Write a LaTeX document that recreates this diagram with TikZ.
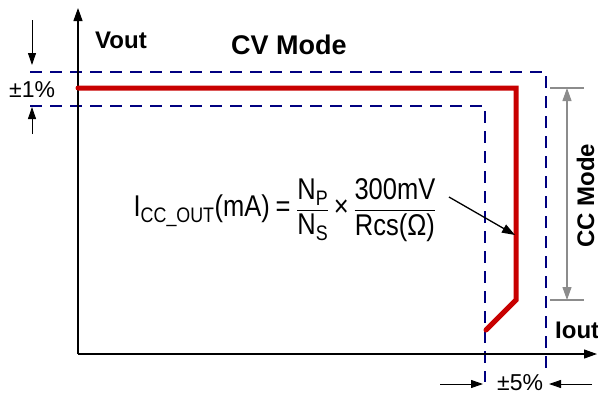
\documentclass[tikz,border=0pt]{standalone}
\usepackage{amsmath}
\usepackage{fontspec}
\setmainfont{Liberation Sans}
\usetikzlibrary{arrows.meta}
\definecolor{dashblue}{RGB}{0,0,128}
\definecolor{curvered}{RGB}{200,0,0}
\definecolor{dimgray}{RGB}{140,140,140}
\tikzset{
  axis/.style={line width=1.2pt, -{Triangle[length=13pt,width=9pt]}},
  tol/.style={dashblue, line width=1.8pt, dash pattern=on 12pt off 8pt},
  curve/.style={curvered, line width=5pt, line cap=round, line join=miter},
  dimarrow/.style={line width=0.9pt, -{Triangle[length=12pt,width=8pt]}},
  ccdim/.style={dimgray, line width=1.2pt},
  lbl/.style={inner sep=0pt, anchor=base west},
  boldlbl/.style={lbl, font=\bfseries\fontsize{24}{28}\selectfont},
  reglbl/.style={lbl, font=\fontsize{23}{27}\selectfont},
}
\begin{document}
\begin{tikzpicture}[x=1pt,y=-1pt]
\useasboundingbox (0,0) rectangle (598,394);
% coordinates
\coordinate (O) at (78,354);
\coordinate (ytop) at (78,8);
\coordinate (xend) at (597,354);
% tolerance dashed boxes
\coordinate (t1) at (30,72);
\coordinate (t2) at (546,72);
\coordinate (t3) at (546,375);
\coordinate (b1) at (30,106);
\coordinate (b2) at (485,106);
\coordinate (b3) at (485,382);
\draw[tol] (t1) -- (t2) -- (t3);
\draw[tol] (b1) -- (b2) -- (b3);
% axes
\draw[axis] (O) -- (ytop);
\draw[axis] (O) -- (xend);
% red characteristic
\coordinate (r1) at (78,88);
\coordinate (r2) at (516,88);
\coordinate (r3) at (516,300);
\coordinate (r4) at (486,330);
\draw[curve] (r1) -- (r2) -- (r3) -- (r4);
% +-1% arrows
\coordinate (a1s) at (32,20);
\coordinate (a1e) at (32,65);
\coordinate (a2s) at (32,134);
\coordinate (a2e) at (32,107);
\draw[dimarrow] (a1s) -- (a1e);
\draw[dimarrow] (a2s) -- (a2e);
% +-5% arrows
\coordinate (a3s) at (440,384);
\coordinate (a3e) at (483,384);
\coordinate (a4s) at (592,384);
\coordinate (a4e) at (549,384);
\draw[dimarrow] (a3s) -- (a3e);
\draw[dimarrow] (a4s) -- (a4e);
% CC mode dimension
\coordinate (c1l) at (550,88);
\coordinate (c1r) at (584,88);
\coordinate (c2l) at (550,300);
\coordinate (c2r) at (584,300);
\draw[ccdim] (c1l) -- (c1r);
\draw[ccdim] (c2l) -- (c2r);
\coordinate (cm) at (567,194);
\coordinate (ct) at (567,88);
\coordinate (cb) at (567,300);
\draw[ccdim, -{Triangle[length=13pt,width=9pt]}] (cm) -- (ct);
\draw[ccdim, -{Triangle[length=13pt,width=9pt]}] (cm) -- (cb);
% labels
\node[boldlbl] (vout) at (95,48) {Vout};
\node[lbl, font=\bfseries\fontsize{27}{32}\selectfont] (cv) at (231,54) {CV Mode};
\node[reglbl] (pm1) at (9,97) {±1\%};
\node[boldlbl] (iout) at (555,338) {Iout};
\node[reglbl] (pm5) at (497,390) {±5\%};
\node[boldlbl, rotate=90] (cc) at (594,248) {CC Mode};
% formula
\node[inner sep=0pt] (formula) at (285,210) {\scalebox{0.85}[1]{\fontsize{30}{36}\selectfont
  $\displaystyle \text{I}_{\text{CC\_OUT}}\text{(mA)}\mathrel{\text{=}}\frac{\text{N}_{\text{P}}}{\text{N}_{\text{S}}}\mathbin{\text{×}}\frac{\text{300mV}}{\text{Rcs(Ω)}}$}};
\coordinate (fa) at (449,197);
\coordinate (fb) at (515,235);
\draw[line width=1.3pt, -{Triangle[length=13pt,width=9pt]}] (fa) -- (fb);
\end{tikzpicture}
\end{document}
